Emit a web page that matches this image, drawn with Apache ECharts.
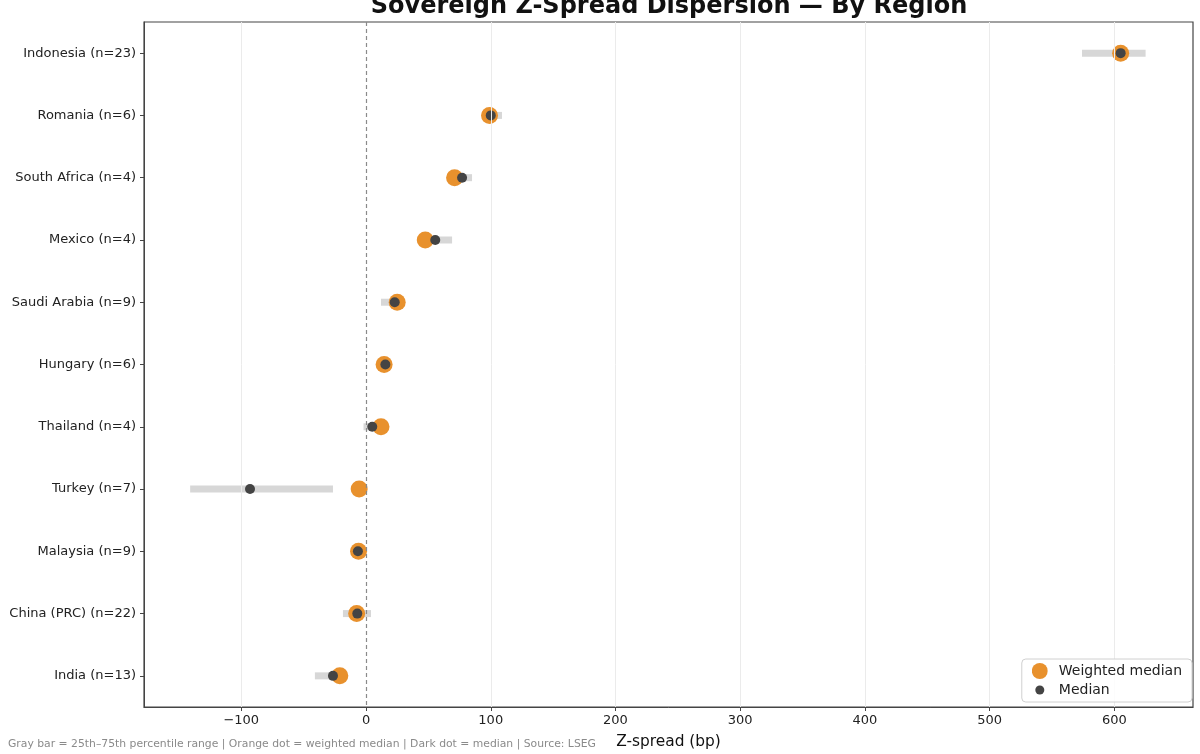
<!DOCTYPE html>
<html>
<head>
<meta charset="utf-8">
<script src="https://cdn.jsdelivr.net/npm/echarts@6/dist/echarts.min.js"></script>
<style>
html,body{margin:0;padding:0;background:#fff;}
#chart{width:1200px;height:754px;}
</style>
</head>
<body>
<div id="chart"></div>
<script>
// Data (top-to-bottom order)
const categories = ["Indonesia (n=23)","Romania (n=6)","South Africa (n=4)","Mexico (n=4)","Saudi Arabia (n=9)","Hungary (n=6)","Thailand (n=4)","Turkey (n=7)","Malaysia (n=9)","China (PRC) (n=22)","India (n=13)"];
const weightedMedian = [605, 99, 71, 47.5, 25, 14.5, 12, -5.5, -6, -7.5, -21];
const median = [605, 100, 77, 55.5, 23, 15.5, 5, -93, -6.5, -7, -26.5];
const iqrLow = [574, 95, 66, 43, 12, 12, -2, -141, -9, -18.5, -41];
const iqrHigh = [625, 109, 85, 69, 26, 17, 10, -26.5, -4, 4, -20];
const xTicks = [-100, 0, 100, 200, 300, 400, 500, 600];

const FONT = "DejaVu Sans";
const chart = echarts.init(document.getElementById('chart'), null, {renderer:'canvas'});

const barData = categories.map((c,i)=>[iqrLow[i], iqrHigh[i], i]);

const smallDot = 'image://data:image/svg+xml;utf8,' + encodeURIComponent('<svg xmlns="http://www.w3.org/2000/svg" width="16" height="16" viewBox="0 0 16 16"><circle cx="8" cy="8" r="4.5" fill="#444444"/></svg>');
const bigDot = 'image://data:image/svg+xml;utf8,' + encodeURIComponent('<svg xmlns="http://www.w3.org/2000/svg" width="16" height="16" viewBox="0 0 16 16"><circle cx="8" cy="8" r="8" fill="#e8912d"/></svg>');

const option = {
  animation:false,
  backgroundColor:'#fff',
  textStyle:{fontFamily:FONT},
  grid:{left:144, right:7, top:22, bottom:45, show:true, borderColor:'#444', borderWidth:1.2, backgroundColor:'transparent'},
  graphic:[
    {type:'text', x:669, y:7, z:100, style:{text:'Sovereign Z-Spread Dispersion \u2014 By Region', font:'bold 24px "DejaVu Sans"', fill:'#111', textAlign:'center', textVerticalAlign:'middle'}},
    {type:'text', x:8, y:744, style:{text:'Gray bar = 25th\u201375th percentile range | Orange dot = weighted median | Dark dot = median | Source: LSEG', font:'10.8px "DejaVu Sans"', fill:'#8a8a8a', textVerticalAlign:'middle'}}
  ],
  legend:{
    orient:'vertical', right:8, bottom:52, z:20,
    backgroundColor:'rgba(255,255,255,0.85)', borderColor:'#d0d0d0', borderWidth:1, borderRadius:4,
    padding:[4,10,4,10], itemGap:3, itemWidth:16, itemHeight:16,
    textStyle:{fontFamily:FONT, fontSize:14, color:'#222', padding:[0,0,0,6]},
    data:[{name:'Weighted median', icon:bigDot},{name:'Median', icon:smallDot}]
  },
  xAxis:{
    type:'value', min:-178, max:663,
    name:'Z-spread (bp)', nameLocation:'middle', nameGap:27,
    nameTextStyle:{fontFamily:FONT, fontSize:15.4, color:'#111'},
    axisLine:{show:true, onZero:false, lineStyle:{color:'#444'}},
    axisTick:{show:true, customValues:xTicks, length:4, lineStyle:{color:'#444'}},
    axisLabel:{customValues:xTicks, fontFamily:FONT, fontSize:13, color:'#222', margin:7,
      formatter:v=>String(v).replace('-', '\u2212')},
    splitLine:{show:false}
  },
  yAxis:{
    type:'category', data:categories, inverse:true, boundaryGap:true,
    axisLine:{show:true, onZero:false, lineStyle:{color:'#444'}},
    axisTick:{show:true, alignWithLabel:true, length:4, lineStyle:{color:'#444'}},
    axisLabel:{fontFamily:FONT, fontSize:13, color:'#222', margin:8},
    splitLine:{show:false}
  },
  series:[
    {
      type:'scatter', name:'grid', silent:true, z:1,
      symbolSize:0, data:weightedMedian.map((v,i)=>[v, categories[i]]),
      markLine:{
        silent:true, symbol:'none',
        label:{show:false},
        data:xTicks.filter(v=>v!==0).map(v=>({xAxis:v, lineStyle:{color:'#ebebeb', type:'solid', width:1}}))
          .concat([{xAxis:0, lineStyle:{color:'#8a8a8a', type:[4,3], width:1.2}}])
      }
    },
    {
      type:'custom', name:'IQR', silent:true, z:2,
      data:barData,
      encode:{x:[0,1], y:2},
      renderItem:function(params, api){
        const p1 = api.coord([api.value(0), api.value(2)]);
        const p2 = api.coord([api.value(1), api.value(2)]);
        const h = 7;
        return {type:'rect', shape:{x:p1[0], y:p1[1]-h/2, width:p2[0]-p1[0], height:h}, style:{fill:'#d7d7d7'}};
      }
    },
    {
      type:'scatter', name:'Weighted median', z:3,
      symbol:'circle', symbolSize:17,
      itemStyle:{color:'#e8912d', opacity:1},
      data:weightedMedian.map((v,i)=>[v, categories[i]])
    },
    {
      type:'scatter', name:'Median', z:4,
      symbol:'circle', symbolSize:10,
      itemStyle:{color:'#444444', opacity:1},
      data:median.map((v,i)=>[v, categories[i]])
    }
  ]
};
chart.setOption(option);
</script>
</body>
</html>
